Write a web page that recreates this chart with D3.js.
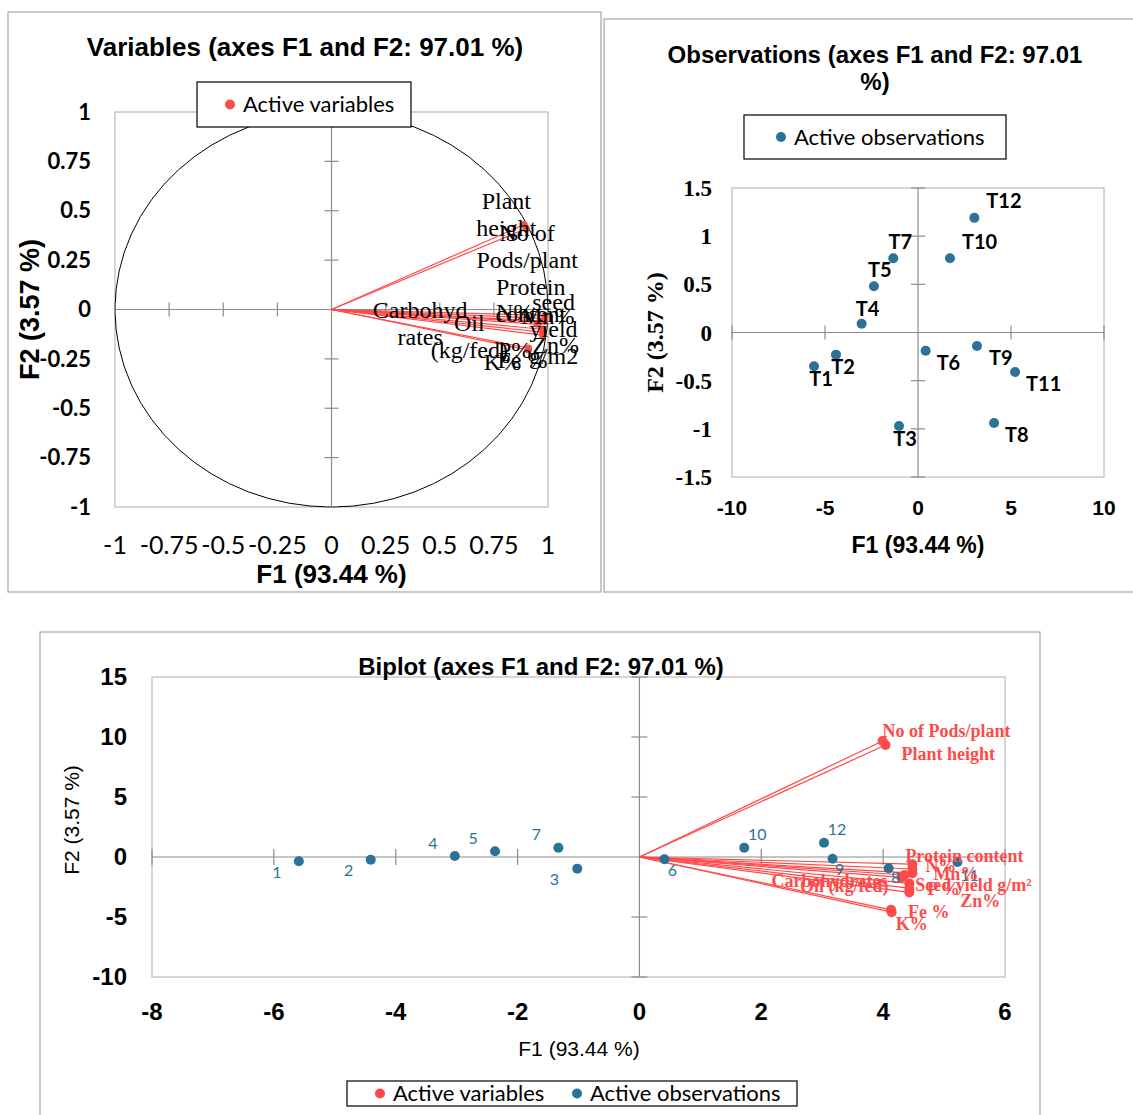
<!DOCTYPE html>
<html>
<head>
<meta charset="utf-8">
<script src="https://cdn.jsdelivr.net/npm/d3@7"></script>
<style>
  body { margin: 0; background: #fff; }
  text { fill: #000; }
</style>
</head>
<body>
<svg id="chart" width="1133" height="1115"></svg>
<script>
// variables (correlation circle and biplot coordinates)
const varNames = ["Plant height", "No of Pods/plant", "Protein content", "N%", "Mn%", "Oil (kg/fed)",
  "Carbohydrates", "Seed yield g/m²", "P %", "Zn%", "Fe %", "K%"];
const circleF1 = [0.90, 0.89, 0.985, 0.985, 0.985, 0.96, 0.95, 0.975, 0.975, 0.975, 0.91, 0.91];
const circleF2 = [0.41, 0.43, -0.03, -0.045, -0.06, -0.065, -0.075, -0.10, -0.115, -0.13, -0.195, -0.205];
const biplotF1 = [4.04, 3.99, 4.48, 4.48, 4.48, 4.35, 4.30, 4.43, 4.43, 4.43, 4.13, 4.14];
const biplotF2 = [9.33, 9.67, -0.6, -1.0, -1.35, -1.5, -1.7, -2.2, -2.6, -2.95, -4.4, -4.6];

// observations
const obsNames = ["T1", "T2", "T3", "T4", "T5", "T6", "T7", "T8", "T9", "T10", "T11", "T12"];
const obsF1 = [-5.59, -4.41, -1.02, -3.03, -2.37, 0.41, -1.33, 4.09, 3.17, 1.72, 5.22, 3.03];
const obsF2 = [-0.35, -0.23, -0.97, 0.09, 0.48, -0.19, 0.77, -0.94, -0.14, 0.77, -0.41, 1.19];

// tick values
const circleTicks = [-1, -0.75, -0.5, -0.25, 0, 0.25, 0.5, 0.75, 1];
const obsXTicks = [-10, -5, 0, 5, 10];
const obsYTicks = [-1.5, -1, -0.5, 0, 0.5, 1, 1.5];
const biXTicks = [-8, -6, -4, -2, 0, 2, 4, 6];
const biYTicks = [-10, -5, 0, 5, 10, 15];

const red = "#ff4a4a", blue = "#2a7396";
const sans = "'Liberation Sans', Arial, sans-serif";
const narrow = "'Liberation Sans Narrow', 'Arial Narrow', 'Liberation Sans', sans-serif";
const serif = "'Liberation Serif', 'Times New Roman', serif";
const cal = "Lato, 'Open Sans', sans-serif";

// label layouts (pixel offsets from the point)
const circleLabelLayout = [
  { lines: ["Plant", "height"], dx: -20, dy: -28 },
  { lines: ["No of", "Pods/plant"], dx: 3, dy: 8 },
  { lines: ["Protein", "content"], dx: -14, dy: -29 },
  { lines: ["N%"], dx: -30, dy: -7 },
  { lines: ["Mn%"], dx: 3, dy: -6 },
  { lines: ["Oil", "(kg/fed)"], dx: -70, dy: 0 },
  { lines: ["Carbohyd", "rates"], dx: -117, dy: -15 },
  { lines: ["seed", "yield", "g/m2"], dx: 11, dy: -28 },
  { lines: ["P%"], dx: -28, dy: 17 },
  { lines: ["Zn%"], dx: 13, dy: 9 },
  { lines: ["Fe %"], dx: -6, dy: 12 },
  { lines: ["K%"], dx: -26, dy: 12 }
];
const obsLabelLayout = [
  [7, 13, "middle"], [7, 12, "middle"], [6, 13, "middle"], [6, -15, "middle"], [6, -16, "middle"],
  [11, 12, "start"], [7, -16, "middle"], [11, 12, "start"], [12, 12, "start"], [12, -16, "start"],
  [11, 12, "start"], [12, -17, "start"]
];
const biVarLayout = [
  [16, 9, "start"], [0, -10, "start"], [-7, -9, "start"], [13, -3, "start"], [21, 0, "start"],
  [-16, 11, "end"], [-14, 3, "end"], [6, 1, "start"], [18, 0, "start"], [51, 8, "start"],
  [17, 2, "start"], [4, 11, "start"]
];
const biObsLayout = [
  [-22, 11], [-22, 11], [-23, 11], [-22, -13], [-22, -13], [8, 11],
  [-22, -13], [7, 9], [7, 11], [13, -13], [12, 13], [13, -13]
];

const svg = d3.select("#chart");

function panelBorder(x0, y0, x1, y1) {
  svg.append("rect").attr("x", x0).attr("y", y0).attr("width", x1 - x0).attr("height", y1 - y0)
    .attr("fill", "none").attr("stroke", "#a6a6a6").attr("stroke-width", 1.2);
}

function frame(x, y) {
  svg.append("rect").attr("x", x.range()[0]).attr("y", y.range()[1])
    .attr("width", x.range()[1] - x.range()[0]).attr("height", y.range()[0] - y.range()[1])
    .attr("fill", "none").attr("stroke", "#c8c8c8").attr("stroke-width", 1.5);
}

// cross axes through the origin with small ticks
function crossAxes(x, y, xt, yt, len) {
  const g = svg.append("g").attr("stroke", "#8c8c8c").attr("stroke-width", 1.2);
  g.append("line").attr("x1", x.range()[0]).attr("x2", x.range()[1]).attr("y1", y(0)).attr("y2", y(0));
  g.append("line").attr("x1", x(0)).attr("x2", x(0)).attr("y1", y.range()[0]).attr("y2", y.range()[1]);
  g.selectAll(".yt").data(yt.filter(d => d !== 0)).join("line")
    .attr("x1", x(0) - len).attr("x2", x(0) + len).attr("y1", d => y(d)).attr("y2", d => y(d));
  g.selectAll(".xt").data(xt.filter(d => d !== 0)).join("line")
    .attr("y1", y(0) - len).attr("y2", y(0) + len).attr("x1", d => x(d)).attr("x2", d => x(d));
}

function legend(x0, y0, w, h, items, size, family) {
  svg.append("rect").attr("x", x0).attr("y", y0).attr("width", w).attr("height", h)
    .attr("fill", "#fff").attr("stroke", "#000").attr("stroke-width", 1.2);
  items.forEach(it => {
    svg.append("circle").attr("cx", it.x).attr("cy", y0 + h / 2).attr("r", 5).attr("fill", it.color);
    svg.append("text").attr("x", it.x + 13).attr("y", y0 + h / 2).attr("dy", "0.35em")
      .style("font-family", family).style("font-size", size + "px").text(it.label);
  });
}

// ---------- Panel 1: correlation circle ----------
{
  panelBorder(8, 12, 601, 592);
  const x = d3.scaleLinear().domain([-1, 1]).range([115, 548]);
  const y = d3.scaleLinear().domain([-1, 1]).range([507, 112]);
  frame(x, y);
  svg.append("ellipse").attr("cx", x(0)).attr("cy", y(0))
    .attr("rx", x(1) - x(0)).attr("ry", y(0) - y(1))
    .attr("fill", "none").attr("stroke", "#000").attr("stroke-width", 1);
  crossAxes(x, y, circleTicks, circleTicks, 7);

  svg.append("g").selectAll("line").data(varNames).join("line")
    .attr("x1", x(0)).attr("y1", y(0))
    .attr("x2", (d, i) => x(circleF1[i])).attr("y2", (d, i) => y(circleF2[i]))
    .attr("stroke", red).attr("stroke-width", 1.2);
  svg.append("g").selectAll("circle").data(varNames).join("circle")
    .attr("cx", (d, i) => x(circleF1[i])).attr("cy", (d, i) => y(circleF2[i])).attr("r", 3.5).attr("fill", red);

  const lab = svg.append("g").style("font-family", serif).style("font-size", "24px").attr("text-anchor", "middle");
  varNames.forEach((n, i) => {
    const L = circleLabelLayout[i];
    L.lines.forEach((s, k) => {
      lab.append("text").attr("x", x(circleF1[i]) + L.dx).attr("y", y(circleF2[i]) + L.dy + k * 27)
        .attr("dy", "0.35em").text(s);
    });
  });

  svg.append("g").selectAll("text").data(circleTicks).join("text")
    .attr("x", 91).attr("y", d => y(d)).attr("dy", "0.35em").attr("text-anchor", "end")
    .style("font-family", cal).style("font-size", "22px").style("font-weight", "bold").text(d => d);
  svg.append("g").selectAll("text").data(circleTicks).join("text")
    .attr("x", d => x(d)).attr("y", 545).attr("dy", "0.35em").attr("text-anchor", "middle")
    .style("font-family", cal).style("font-size", "25px").text(d => d);

  svg.append("text").attr("x", 305).attr("y", 47).attr("dy", "0.35em").attr("text-anchor", "middle")
    .style("font-family", sans).style("font-size", "26px").style("font-weight", "bold")
    .text("Variables (axes F1 and F2: 97.01 %)");
  svg.append("text").attr("x", x(0)).attr("y", 574).attr("dy", "0.35em").attr("text-anchor", "middle")
    .style("font-family", sans).style("font-size", "26px").style("font-weight", "bold").text("F1 (93.44 %)");
  svg.append("text").attr("transform", `translate(30,${y(0)}) rotate(-90)`).attr("dy", "0.35em")
    .attr("text-anchor", "middle").style("font-family", sans).style("font-size", "27px")
    .style("font-weight", "bold").text("F2 (3.57 %)");
  legend(197, 82, 214, 45, [{ x: 230, color: red, label: "Active variables" }], 22, cal);
}

// ---------- Panel 2: observations ----------
{
  panelBorder(604, 19, 1140, 592);
  const x = d3.scaleLinear().domain([-10, 10]).range([732, 1104]);
  const y = d3.scaleLinear().domain([-1.5, 1.5]).range([477, 188]);
  frame(x, y);
  crossAxes(x, y, obsXTicks, obsYTicks, 7);

  svg.append("g").selectAll("circle").data(obsNames).join("circle")
    .attr("cx", (d, i) => x(obsF1[i])).attr("cy", (d, i) => y(obsF2[i])).attr("r", 5).attr("fill", blue);
  svg.append("g").selectAll("text").data(obsNames).join("text")
    .attr("x", (d, i) => x(obsF1[i]) + obsLabelLayout[i][0])
    .attr("y", (d, i) => y(obsF2[i]) + obsLabelLayout[i][1])
    .attr("text-anchor", (d, i) => obsLabelLayout[i][2]).attr("dy", "0.35em")
    .style("font-family", cal).style("font-size", "20px").style("font-weight", "bold").text(d => d);

  svg.append("g").selectAll("text").data(obsYTicks).join("text")
    .attr("x", 712).attr("y", d => y(d)).attr("dy", "0.35em").attr("text-anchor", "end")
    .style("font-family", serif).style("font-size", "23px").style("font-weight", "bold").text(d => d);
  svg.append("g").selectAll("text").data(obsXTicks).join("text")
    .attr("x", d => x(d)).attr("y", 508).attr("dy", "0.35em").attr("text-anchor", "middle")
    .style("font-family", sans).style("font-size", "21px").style("font-weight", "bold").text(d => d);

  const t = svg.append("text").attr("text-anchor", "middle").style("font-family", sans)
    .style("font-size", "24px").style("font-weight", "bold");
  t.append("tspan").attr("x", 875).attr("y", 63).text("Observations (axes F1 and F2: 97.01");
  t.append("tspan").attr("x", 875).attr("y", 90).text("%)");
  svg.append("text").attr("x", x(0)).attr("y", 545).attr("dy", "0.35em").attr("text-anchor", "middle")
    .style("font-family", sans).style("font-size", "23px").style("font-weight", "bold").text("F1 (93.44 %)");
  svg.append("text").attr("transform", `translate(655,${y(0)}) rotate(-90)`).attr("dy", "0.35em")
    .attr("text-anchor", "middle").style("font-family", serif).style("font-size", "24px")
    .style("font-weight", "bold").text("F2 (3.57 %)");
  legend(744, 115, 262, 44, [{ x: 781, color: blue, label: "Active observations" }], 22, cal);
}

// ---------- Panel 3: biplot ----------
{
  panelBorder(40, 632, 1040, 1125);
  const x = d3.scaleLinear().domain([-8, 6]).range([152, 1005]);
  const y = d3.scaleLinear().domain([-10, 15]).range([977, 677]);
  frame(x, y);
  crossAxes(x, y, biXTicks, biYTicks, 8);

  svg.append("g").selectAll("line").data(varNames).join("line")
    .attr("x1", x(0)).attr("y1", y(0))
    .attr("x2", (d, i) => x(biplotF1[i])).attr("y2", (d, i) => y(biplotF2[i]))
    .attr("stroke", red).attr("stroke-width", 1.2);
  svg.append("g").selectAll("circle").data(obsNames).join("circle")
    .attr("cx", (d, i) => x(obsF1[i])).attr("cy", (d, i) => y(obsF2[i])).attr("r", 5).attr("fill", blue);
  svg.append("g").selectAll("circle").data(varNames).join("circle")
    .attr("cx", (d, i) => x(biplotF1[i])).attr("cy", (d, i) => y(biplotF2[i])).attr("r", 5).attr("fill", red);

  svg.append("g").selectAll("text").data(obsNames).join("text")
    .attr("x", (d, i) => x(obsF1[i]) + biObsLayout[i][0])
    .attr("y", (d, i) => y(obsF2[i]) + biObsLayout[i][1])
    .attr("text-anchor", "middle").attr("dy", "0.35em")
    .style("font-family", cal).style("font-size", "16px").style("fill", blue).text(d => d.slice(1));
  svg.append("g").selectAll("text").data(varNames).join("text")
    .attr("x", (d, i) => x(biplotF1[i]) + biVarLayout[i][0])
    .attr("y", (d, i) => y(biplotF2[i]) + biVarLayout[i][1])
    .attr("text-anchor", (d, i) => biVarLayout[i][2]).attr("dy", "0.35em")
    .style("font-family", serif).style("font-size", "18px").style("font-weight", "bold")
    .style("fill", red).text(d => d);

  svg.append("g").selectAll("text").data(biYTicks).join("text")
    .attr("x", 127).attr("y", d => y(d)).attr("dy", "0.35em").attr("text-anchor", "end")
    .style("font-family", narrow).style("font-size", "24px").style("font-weight", "bold").text(d => d);
  svg.append("g").selectAll("text").data(biXTicks).join("text")
    .attr("x", d => x(d)).attr("y", 1012).attr("dy", "0.35em").attr("text-anchor", "middle")
    .style("font-family", narrow).style("font-size", "24px").style("font-weight", "bold").text(d => d);

  svg.append("text").attr("x", 541).attr("y", 667).attr("dy", "0.35em").attr("text-anchor", "middle")
    .style("font-family", narrow).style("font-size", "24px").style("font-weight", "bold")
    .text("Biplot (axes F1 and F2: 97.01 %)");
  svg.append("text").attr("x", 579).attr("y", 1049).attr("dy", "0.35em").attr("text-anchor", "middle")
    .style("font-family", narrow).style("font-size", "21px").text("F1 (93.44 %)");
  svg.append("text").attr("transform", "translate(72,820) rotate(-90)").attr("dy", "0.35em")
    .attr("text-anchor", "middle").style("font-family", narrow).style("font-size", "21px").text("F2 (3.57 %)");
  legend(347, 1081, 450, 25, [
    { x: 380, color: red, label: "Active variables" },
    { x: 577, color: blue, label: "Active observations" }
  ], 22, cal);
}
</script>
</body>
</html>
